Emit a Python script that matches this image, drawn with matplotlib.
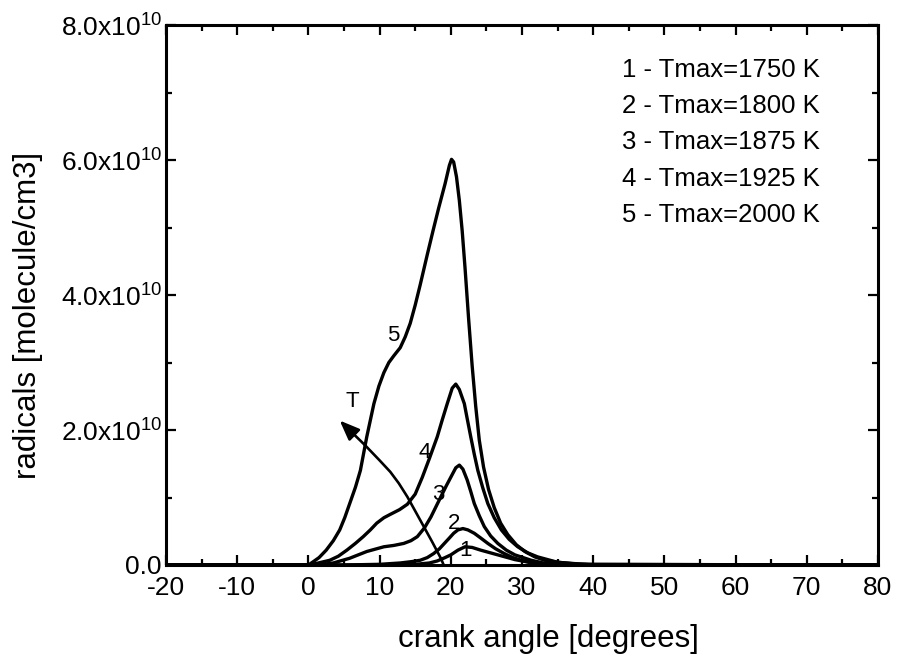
import numpy as np
import matplotlib
matplotlib.use("Agg")
import matplotlib.pyplot as plt

plt.rcParams['font.family'] = ['Liberation Sans', 'DejaVu Sans']
plt.rcParams['mathtext.fontset'] = 'custom'
plt.rcParams['mathtext.rm'] = 'Liberation Sans'
plt.rcParams['mathtext.it'] = 'Liberation Sans:italic'
plt.rcParams['axes.unicode_minus'] = False

SCALE = 1e10

# ---- data (y in units of 1e10 molecule/cm3) ----
x1 = [-20, 10, 15, 17.0, 18.1, 19.2, 20.0, 21.0, 22.0, 23.0, 24.2, 25.4, 26.6, 27.8, 29.0, 30.5, 32, 34, 36, 80]
y1 = [0, 0, 0.01, 0.03, 0.06, 0.11, 0.15, 0.22, 0.27, 0.26, 0.22, 0.185, 0.15, 0.115, 0.08, 0.05, 0.02, 0.01, 0, 0]

x2 = [-20, 5, 10, 12.9, 14.5, 15.7, 16.7, 17.6, 18.4, 19.1, 19.8, 20.4, 21.0, 21.7, 22.4, 23.3,
      24.2, 25.2, 26.3, 27.5, 28.7, 29.9, 31.5, 33, 80]
y2 = [0, 0, 0.01, 0.03, 0.05, 0.07, 0.11, 0.17, 0.24, 0.32, 0.40, 0.47, 0.52, 0.54, 0.52, 0.47,
      0.40, 0.32, 0.24, 0.17, 0.11, 0.07, 0.03, 0.01, 0]

x3 = [-20, 0, 2.0, 3.5, 5.8, 8.2, 10.6, 12.0, 13.4, 14.4, 15.3, 16.3, 17.2, 18.6, 19.4, 20.0,
      20.7, 21.2, 21.7, 22.3, 22.8, 23.3, 24.0, 24.7, 25.6, 26.6, 27.8, 29.0, 31.3, 33, 35, 80]
y3 = [0, 0, 0.01, 0.03, 0.10, 0.20, 0.27, 0.29, 0.32, 0.36, 0.42, 0.55, 0.71, 1.01, 1.18, 1.30,
      1.44, 1.48, 1.42, 1.26, 1.09, 0.91, 0.73, 0.57, 0.43, 0.32, 0.22, 0.15, 0.07, 0.03, 0.01, 0]

x4 = [-20, 0, 1.0, 3.0, 4.2, 5.4, 6.6, 7.7, 8.7, 9.6, 10.6, 11.5, 12.8, 13.9, 15.0, 16.0,
      17.0, 18.1, 18.8, 19.5, 20.2, 20.7, 21.2, 21.9, 22.3, 22.8, 23.3, 23.8, 24.5, 25.2,
      26.1, 27.1, 28.2, 29.4, 30.8, 32.2, 35, 40, 80]
y4 = [0, 0, 0.02, 0.07, 0.13, 0.22, 0.32, 0.42, 0.52, 0.62, 0.70, 0.75, 0.82, 0.90, 1.05, 1.30,
      1.58, 1.90, 2.15, 2.39, 2.62, 2.68, 2.60, 2.39, 2.17, 1.90, 1.64, 1.40, 1.14, 0.91,
      0.70, 0.52, 0.38, 0.27, 0.18, 0.12, 0.04, 0, 0]

x5 = [-20, 0, 0.7, 1.5, 2.5, 3.5, 4.4, 5.1, 5.8, 6.6, 7.3, 8.2, 9.2, 9.9, 10.6, 11.3,
      12.0, 12.9, 13.6, 14.3, 15.0, 15.7, 16.7, 17.5, 18.3, 19.2, 19.8, 20.1, 20.4,
      20.8, 21.2, 21.6, 22.0, 22.5, 23.0, 23.5, 24.0, 24.6, 25.3, 26.1, 27.0, 28.0,
      29.2, 30.4, 31.8, 33.2, 35.1, 38, 42, 80]
y5 = [0, 0, 0.05, 0.11, 0.22, 0.36, 0.52, 0.70, 0.91, 1.15, 1.40, 1.90, 2.39, 2.65, 2.85, 3.00,
      3.10, 3.22, 3.38, 3.58, 3.85, 4.15, 4.60, 4.95, 5.29, 5.65, 5.92, 6.01, 5.97,
      5.75, 5.40, 4.95, 4.40, 3.65, 2.95, 2.35, 1.85, 1.45, 1.12, 0.85, 0.62, 0.45,
      0.30, 0.20, 0.12, 0.07, 0.04, 0.01, 0, 0]

# temperature trend arrow "T"
xT = [19.0, 18.6, 17.4, 16.2, 15.0, 13.9, 12.7, 11.5, 10.0, 8.0]
yT = [0.0, 0.10, 0.34, 0.57, 0.80, 1.01, 1.21, 1.38, 1.55, 1.77]
T_head = (4.4, 2.14)

curve_ids = ['1', '2', '3', '4', '5']
label_pos = [(22.1, 0.21), (20.5, 0.61), (18.2, 1.05), (16.3, 1.67), (11.9, 3.40)]
legend_labels = ['1 - Tmax=1750 K', '2 - Tmax=1800 K', '3 - Tmax=1875 K',
                 '4 - Tmax=1925 K', '5 - Tmax=2000 K']

xticks = [-20, -10, 0, 10, 20, 30, 40, 50, 60, 70, 80]
xtick_labels = ['-20', '-10', '0', '10', '20', '30', '40', '50', '60', '70', '80']
yticks = [0, 2, 4, 6, 8]
ytick_labels = ['0.0', r'2.0x10$^{10}$', r'4.0x10$^{10}$', r'6.0x10$^{10}$', r'8.0x10$^{10}$']

# ---- figure ----
W, H = 898, 662
fig = plt.figure(figsize=(W / 100, H / 100), dpi=100)
ax = fig.add_axes([166 / W, 1 - 565 / H, 712 / W, 540 / H])

lw = 2.4
for xs, ys in [(x1, y1), (x2, y2), (x3, y3), (x4, y4), (x5, y5)]:
    ax.plot(xs, np.array(ys) * SCALE, color='black', lw=lw, solid_joinstyle='round',
            solid_capstyle='round', zorder=3)

ax.plot(xT, np.array(yT) * SCALE, color='black', lw=1.9, zorder=3,
        solid_joinstyle='round')
ax.annotate('', xy=(T_head[0], T_head[1] * SCALE), xytext=(xT[-1], yT[-1] * SCALE),
            arrowprops=dict(arrowstyle='-|>,head_length=0.8,head_width=0.32',
                            mutation_scale=15, color='black', lw=1.9,
                            shrinkA=0, shrinkB=0), zorder=4)
ax.text(6.1, 2.42 * SCALE, 'T', fontsize=16, ha='center', va='center')

for cid, (lx, ly) in zip(curve_ids, label_pos):
    ax.text(lx, ly * SCALE, cid, fontsize=16, ha='center', va='center', zorder=5)

for i, lab in enumerate(legend_labels):
    ax.text(0.640, 0.904 - i * 0.0672, lab, transform=ax.transAxes, fontsize=18.5,
            ha='left', va='baseline')

ax.set_xlim(-20, 80)
ax.set_ylim(0, 8 * SCALE)
ax.set_xticks(xticks)
ax.set_xticklabels(xtick_labels)
ax.set_xticks(np.arange(-15, 80, 10), minor=True)
ax.set_yticks(np.array(yticks) * SCALE)
ax.set_yticklabels(ytick_labels)
ax.set_yticks(np.array([1, 3, 5, 7]) * SCALE, minor=True)

for s in ax.spines.values():
    s.set_linewidth(2.2)
ax.tick_params(which='both', direction='in', top=True, right=True, width=1.6,
               labelsize=19)
ax.tick_params(which='major', length=7.5)
ax.tick_params(which='minor', length=4.5)
ax.tick_params(axis='x', pad=8)
ax.tick_params(axis='y', pad=3)

fig.text(548 / W, 1 - 647 / H, 'crank angle [degrees]', fontsize=22.5,
         ha='center', va='baseline')
fig.text(28 / W, 1 - 315 / H, 'radicals [molecule/cm3]', fontsize=22.5,
         ha='center', va='center', rotation=90)

fig.savefig('out.png', dpi=100)
